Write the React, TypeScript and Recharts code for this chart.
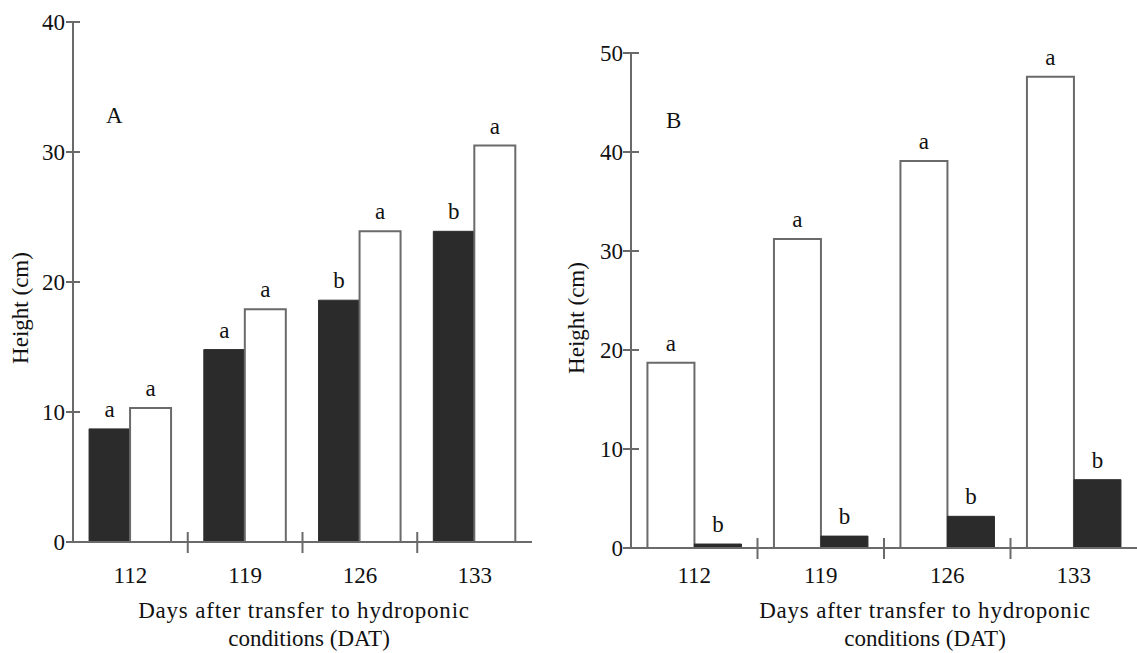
import React from 'react';
import { BarChart, Bar, XAxis, YAxis, LabelList } from 'recharts';

const days = ['112', '119', '126', '133'];

// panel A
const heightADark = [8.7, 14.8, 18.6, 23.9];
const heightALight = [10.3, 17.9, 23.9, 30.5];
const lettersADark = ['a', 'a', 'b', 'b'];
const lettersALight = ['a', 'a', 'a', 'a'];
const ticksA = [0, 10, 20, 30, 40];

// panel B
const heightBLight = [18.7, 31.2, 39.1, 47.6];
const heightBDark = [0.4, 1.2, 3.2, 6.9];
const lettersBLight = ['a', 'a', 'a', 'a'];
const lettersBDark = ['b', 'b', 'b', 'b'];
const ticksB = [0, 10, 20, 30, 40, 50];

const dataA = days.map((d, i) => ({
  day: d,
  dark: heightADark[i],
  light: heightALight[i],
  darkL: lettersADark[i],
  lightL: lettersALight[i],
}));

const dataB = days.map((d, i) => ({
  day: d,
  dark: heightBDark[i],
  light: heightBLight[i],
  darkL: lettersBDark[i],
  lightL: lettersBLight[i],
}));

const FONT = "'Liberation Serif'";
const AXIS = '#6a6a6a';
const DARK = '#2b2b2b';
const txt = { fontFamily: FONT, fontSize: 23, fill: '#111' };
const wide = { ...txt, letterSpacing: 0.8 };

const YTick = (props: any) => {
  const { x, y, payload, half } = props;
  return (
    <g>
      <line x1={x - half} x2={x + half} y1={y} y2={y} stroke={AXIS} strokeWidth={2} />
      <text x={x - 8} y={y} dy="0.35em" textAnchor="end" style={txt}>
        {payload.value}
      </text>
    </g>
  );
};

const XTick = (props: any) => {
  const { x, y, payload, index, band, labelDy } = props;
  return (
    <g>
      <text x={x} y={y + labelDy} textAnchor="middle" style={txt}>
        {payload.value}
      </text>
      {index < days.length - 1 && (
        <line x1={x + band / 2} x2={x + band / 2} y1={y - 10} y2={y + 11} stroke={AXIS} strokeWidth={2} />
      )}
    </g>
  );
};

export default function App() {
  const bandA = (532 - 73) / days.length;
  const bandB = (1137 - 631) / days.length;
  return (
    <div
      style={{
        position: 'absolute',
        left: 0,
        top: 0,
        width: 1137,
        height: 653,
        background: '#fff',
        fontFamily: FONT,
      }}
    >
      <div style={{ position: 'absolute', left: 0, top: 0 }}>
        <BarChart
          width={560}
          height={653}
          data={dataA}
          margin={{ top: 22, right: 28, left: 0, bottom: 0 }}
          barCategoryGap="14%"
          barGap={0}
        >
          <XAxis
            dataKey="day"
            height={111}
            axisLine={{ stroke: AXIS, strokeWidth: 2 }}
            tickLine={false}
            tickSize={0}
            tickMargin={0}
            interval={0}
            tick={<XTick band={bandA} labelDy={41} />}
          />
          <YAxis
            width={73}
            domain={[0, 40]}
            ticks={ticksA}
            axisLine={{ stroke: AXIS, strokeWidth: 2 }}
            tickLine={false}
            tickSize={0}
            tickMargin={0}
            tick={<YTick half={7} />}
          />
          <Bar dataKey="dark" fill={DARK} stroke={DARK} strokeWidth={1} isAnimationActive={false}>
            <LabelList dataKey="darkL" position="top" offset={12} style={txt} />
          </Bar>
          <Bar dataKey="light" fill="#fff" stroke={AXIS} strokeWidth={2} isAnimationActive={false}>
            <LabelList dataKey="lightL" position="top" offset={12} style={txt} />
          </Bar>
          <text x={106} y={123} style={txt}>A</text>
          <text x={28} y={308} transform="rotate(-90 28 308)" textAnchor="middle" style={txt}>
            Height (cm)
          </text>
          <text x={304} y={618} textAnchor="middle" style={wide}>
            Days after transfer to hydroponic
          </text>
          <text x={309} y={646} textAnchor="middle" style={txt}>
            conditions (DAT)
          </text>
        </BarChart>
      </div>
      <div style={{ position: 'absolute', left: 560, top: 0 }}>
        <BarChart
          width={577}
          height={653}
          data={dataB}
          margin={{ top: 53, right: 0, left: 0, bottom: 0 }}
          barCategoryGap="13%"
          barGap={0}
        >
          <XAxis
            dataKey="day"
            height={105}
            axisLine={{ stroke: AXIS, strokeWidth: 2 }}
            tickLine={false}
            tickSize={0}
            tickMargin={0}
            interval={0}
            tick={<XTick band={bandB} labelDy={35} />}
          />
          <YAxis
            width={71}
            domain={[0, 50]}
            ticks={ticksB}
            axisLine={{ stroke: AXIS, strokeWidth: 2 }}
            tickLine={false}
            tickSize={0}
            tickMargin={0}
            tick={<YTick half={8} />}
          />
          <Bar dataKey="light" fill="#fff" stroke={AXIS} strokeWidth={2} isAnimationActive={false}>
            <LabelList dataKey="lightL" position="top" offset={12} style={txt} />
          </Bar>
          <Bar dataKey="dark" fill={DARK} stroke={DARK} strokeWidth={1} isAnimationActive={false}>
            <LabelList dataKey="darkL" position="top" offset={12} style={txt} />
          </Bar>
          <text x={106} y={128} style={txt}>B</text>
          <text x={24} y={318} transform="rotate(-90 24 318)" textAnchor="middle" style={txt}>
            Height (cm)
          </text>
          <text x={365} y={618} textAnchor="middle" style={wide}>
            Days after transfer to hydroponic
          </text>
          <text x={365} y={646} textAnchor="middle" style={txt}>
            conditions (DAT)
          </text>
        </BarChart>
      </div>
    </div>
  );
}
